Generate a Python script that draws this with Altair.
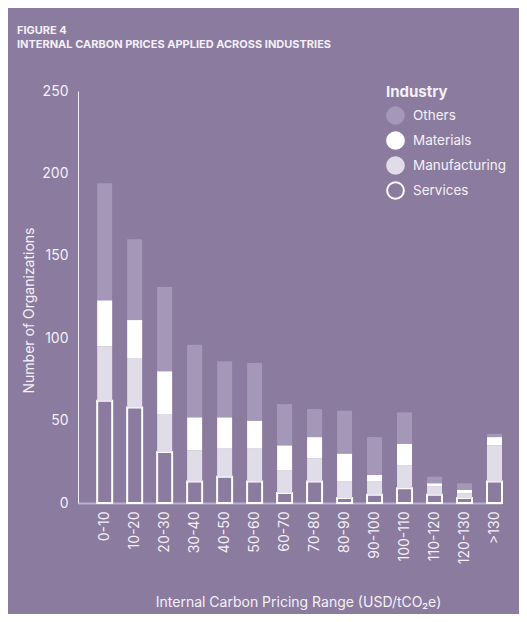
import altair as alt
import pandas as pd

# Price ranges on the x axis (USD/tCO2e)
ranges = ["0-10", "10-20", "20-30", "30-40", "40-50", "50-60", "60-70",
          "70-80", "80-90", "90-100", "100-110", "110-120", "120-130", ">130"]

# Number of organizations per industry
services = [62, 58, 31, 13, 16, 13, 6, 13, 3, 5, 9, 5, 3, 13]
manufacturing = [33, 30, 23, 19, 17, 20, 14, 14, 10, 8, 14, 5, 3, 22]
materials = [28, 23, 26, 20, 19, 17, 15, 13, 17, 4, 13, 2, 2, 5]
others = [71, 49, 51, 44, 34, 35, 25, 17, 26, 23, 19, 4, 4, 2]

# Legend order (top to bottom) and stack order (bottom to top)
legend_order = ["Others", "Materials", "Manufacturing", "Services"]
stack_order = ["Services", "Manufacturing", "Materials", "Others"]

bg = "#8a7b9f"
text_color = "#f4f0f7"
fills = ["#a597b8", "#ffffff", "#e1dde8", bg]
strokes = ["#a597b8", "#ffffff", "#e1dde8", "#ffffff"]
font = "Inter"

rows = []
for series_name, values in [("Services", services), ("Manufacturing", manufacturing),
                            ("Materials", materials), ("Others", others)]:
    for r, v in zip(ranges, values):
        rows.append({"range": r, "industry": series_name, "count": v,
                     "rank": stack_order.index(series_name)})
df = pd.DataFrame(rows)

chart = alt.Chart(df).mark_bar(size=15).encode(
    x=alt.X("range:N", sort=ranges, title="Internal Carbon Pricing Range (USD/tCO₂e)",
            scale=alt.Scale(paddingInner=0.5, paddingOuter=0.32, align=1),
            axis=alt.Axis(labelAngle=-90, labelPadding=8, ticks=False, domainColor="#bcb0cc",
                          domainWidth=2, titlePadding=32, titleX=220)),
    y=alt.Y("count:Q", stack="zero", title="Number of Organizations",
            scale=alt.Scale(domain=[0, 250]),
            axis=alt.Axis(values=[0, 50, 100, 150, 200, 250], ticks=False, grid=False,
                          domainColor="#f4f0f7", domainWidth=1, labelPadding=10,
                          titlePadding=5, titleY=219)),
    fill=alt.Fill("industry:N", title="Industry",
                  scale=alt.Scale(domain=legend_order, range=fills),
                  legend=alt.Legend(orient="none", legendX=308, legendY=-6)),
    stroke=alt.Stroke("industry:N", title="Industry",
                      scale=alt.Scale(domain=legend_order, range=strokes)),
    strokeWidth=alt.condition(alt.datum.industry == "Services", alt.value(2), alt.value(0)),
    order=alt.Order("rank:Q", sort="ascending"),
    tooltip=["range", "industry", "count"],
).properties(
    width=424,
    height=412,
    autosize=alt.AutoSizeParams(type="none"),
    padding={"left": 70, "top": 83, "right": 17, "bottom": 111},
    background=bg,
    title=alt.TitleParams(
        ["FIGURE 4", "INTERNAL CARBON PRICES APPLIED ACROSS INDUSTRIES"],
        anchor="start", frame="group", fontSize=11, fontWeight="bold",
        color=text_color, font=font, dx=-61, lineHeight=14, offset=34,
    ),
).configure_view(
    stroke=None
).configure_axis(
    labelFont=font, titleFont=font, labelColor=text_color, titleColor=text_color,
    labelFontSize=14, titleFontSize=14, titleFontWeight="normal",
).configure_legend(
    titleFont=font, labelFont=font, titleColor=text_color, labelColor=text_color,
    titleFontSize=15, labelFontSize=13.5, titleFontWeight="bold", symbolType="circle",
    symbolSize=280, symbolStrokeWidth=2, rowPadding=0, labelOffset=8, titlePadding=6,
)

chart.save("out.html", embed_options={"renderer": "svg", "actions": False})
